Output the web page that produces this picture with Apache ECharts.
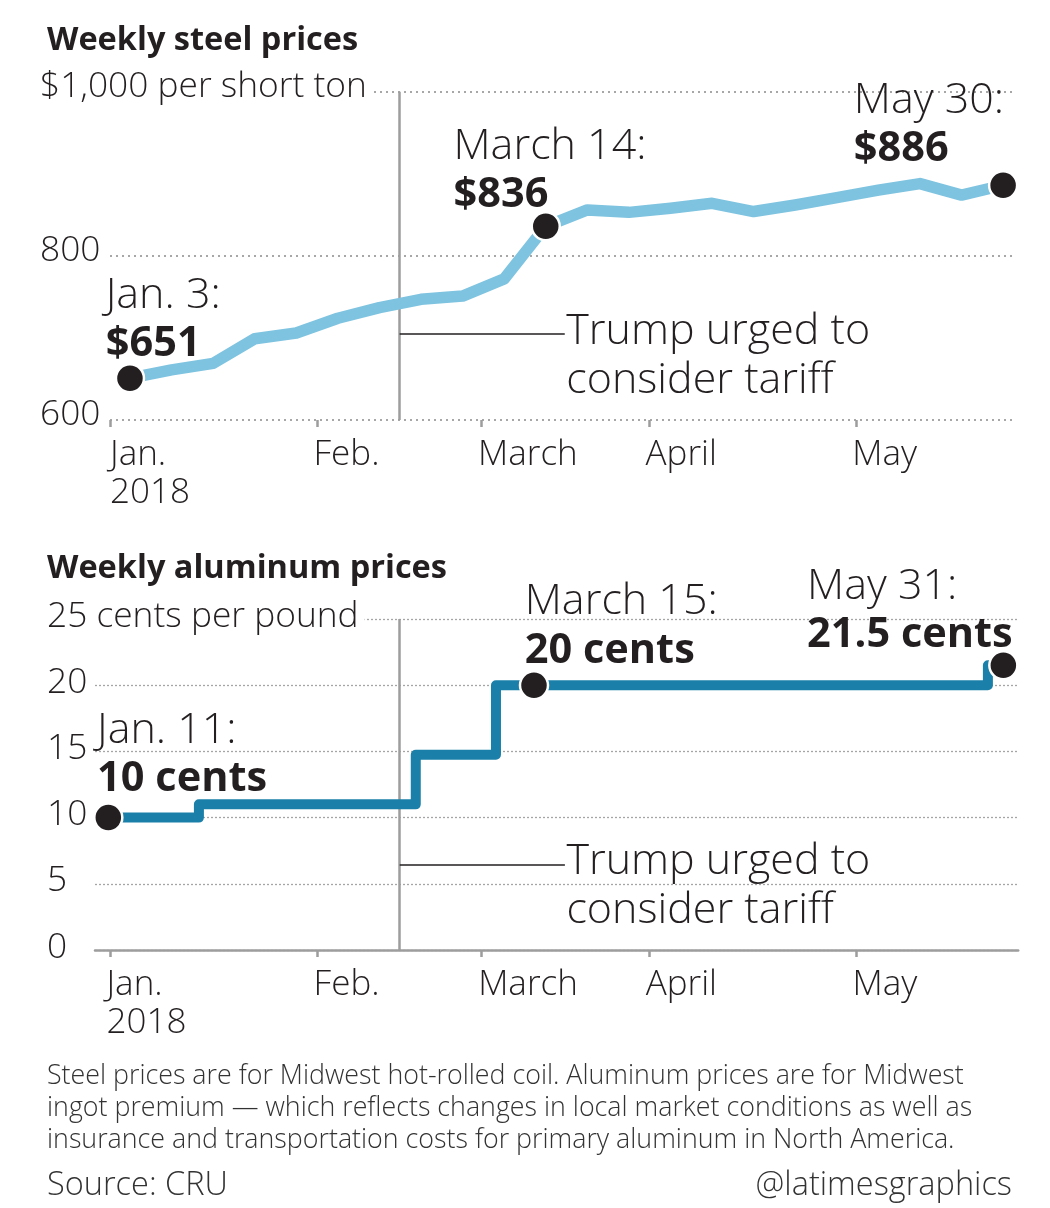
<!DOCTYPE html>
<html><head><meta charset="utf-8">
<script src="https://cdn.jsdelivr.net/npm/echarts@6/dist/echarts.min.js"></script>
<style>html,body{margin:0;padding:0;background:#fff}#c{width:1050px;height:1208px}</style>
</head><body><div id="c"></div>
<script>
// ---------- data ----------
// x positions are in days from Jan 1, 2018
const monthLabels = ['Jan.\n2018', 'Feb.', 'March', 'April', 'May'];
const monthTickPos = [-1.36, 33.5, 61.2, 89.4, 124.2];

const steelDates = ['2018-01-03','2018-01-10','2018-01-17','2018-01-24','2018-01-31','2018-02-07',
  '2018-02-14','2018-02-21','2018-02-28','2018-03-07','2018-03-14','2018-03-21','2018-03-28',
  '2018-04-04','2018-04-11','2018-04-18','2018-04-25','2018-05-02','2018-05-09','2018-05-16',
  '2018-05-23','2018-05-30'];
const steelValues = [651, 661, 669, 699, 706, 724, 737, 747, 751, 772, 836, 856, 853, 858, 864, 854,
  862, 871, 880, 888, 874, 886];
const steelYTicks = [600, 800, 1000];
const steelYLabels = ['600', '800', '$1,000 per short ton'];
const steelNoteIdx = [0, 10, 21];
const steelNoteDates = ['Jan. 3:', 'March 14:', 'May 30:'];

// aluminum: step change points, positions
const alumPos = [-1.65, 13.6, 50.1, 63.6, 70.0, 146.4, 149.0];
const alumValues = [10, 11, 14.75, 20, 20, 21.5, 21.5];
const alumYTicks = [0, 5, 10, 15, 20, 25];
const alumYLabels = ['0', '5', '10', '15', '20', '25 cents per pound'];
const alumNoteIdx = [0, 4, 6];
const alumNoteDates = ['Jan. 11:', 'March 15:', 'May 31:'];

const tariffPos = 47.4;
const tariffText = 'Trump urged to\nconsider tariff';
const steelConnector = [705, 75.2];   // [y value, end x]
const alumConnector = [6.42, 75.2];

const footnote = 'Steel prices are for Midwest hot-rolled coil. Aluminum prices are for Midwest\n' +
  'ingot premium \u2014 which reflects changes in local market conditions as well as\n' +
  'insurance and transportation costs for primary aluminum in North America.';

// ---------- layout / style ----------
const FONT = "'Open Sans', 'Liberation Sans', sans-serif";
const INK = '#231f20';
const steelLabelOffsets = [[-9, -91], [-77, -89], [-134, -94]];
const alumLabelOffsets = [[4, -96], [6, -92], [-181, -88]];

function toDay(s) {
  const p = s.split('-').map(Number);
  return (Date.UTC(p[0], p[1] - 1, p[2]) - Date.UTC(2018, 0, 1)) / 86400000;
}

const steelData = steelDates.map((d, i) => [toDay(d), steelValues[i]]);
const alumData = alumPos.map((x, i) => [x, alumValues[i]]);

const richStyle = {
  a: { fontFamily: FONT, fontSize: 43, lineHeight: 48.5, color: INK, fontWeight: 300 },
  b: { fontFamily: FONT, fontSize: 41.5, lineHeight: 48.5, color: INK, fontWeight: 'bold' }
};

function notePoints(data, idx, dates, fmt, offsets) {
  return idx.map((k, j) => ({
    coord: data[k],
    label: {
      show: true, position: offsets[j], align: 'left', verticalAlign: 'top',
      formatter: '{a|' + dates[j] + '}\n{b|' + fmt(data[k][1]) + '}',
      rich: richStyle
    }
  }));
}

function tariffPoint(conn, dy) {
  return {
    coord: [conn[1], conn[0]], symbol: 'circle', symbolSize: 1,
    itemStyle: { color: 'rgba(0,0,0,0)', borderWidth: 0 },
    label: {
      show: true, position: [2, dy], align: 'left', verticalAlign: 'top',
      formatter: tariffText, fontFamily: FONT, fontSize: 43, lineHeight: 48.5, color: INK, fontWeight: 300
    }
  };
}

function markLines(conn) {
  const connStyle = { color: INK, width: 1.6, type: 'solid' };
  return {
    silent: true, symbol: ['none', 'none'], z: 1, animation: false,
    label: { show: false },
    data: [
      { xAxis: tariffPos, lineStyle: { color: '#9d9d9d', width: 2.5, type: 'solid' } },
      [
        { coord: [tariffPos, conn[0]], lineStyle: connStyle },
        { coord: [conn[1], conn[0]], lineStyle: connStyle }
      ]
    ]
  };
}

function xAxisCfg(gridIndex, min, max, showLine) {
  const labelPos = monthTickPos.map(v => Math.max(min, v - 0.6));
  return {
    type: 'value', gridIndex, min, max,
    axisLine: { show: showLine, lineStyle: { color: '#9d9d9d', width: 2.5 } },
    axisTick: { show: true, customValues: monthTickPos, length: 7, lineStyle: { color: '#9d9d9d', width: 2.5 } },
    splitLine: { show: false },
    axisLabel: {
      customValues: labelPos,
      formatter: v => {
        let best = 0;
        labelPos.forEach((p, i) => { if (Math.abs(p - v) < Math.abs(labelPos[best] - v)) best = i; });
        return monthLabels[best];
      },
      align: 'left', margin: 16,
      fontFamily: FONT, fontSize: 35, lineHeight: 38, color: INK, fontWeight: 300
    }
  };
}

function yAxisCfg(gridIndex, ticks, labels, interval, margin, padBottom, grid) {
  return {
    type: 'value', gridIndex, min: ticks[0], max: ticks[ticks.length - 1], interval,
    axisLine: { show: false }, axisTick: { show: false },
    splitLine: { show: true, lineStyle: grid },
    axisLabel: {
      formatter: v => '{v|' + labels[ticks.indexOf(v)] + '}',
      align: 'left', margin,
      rich: {
        v: { fontFamily: FONT, fontSize: 35.3, lineHeight: 40, color: INK, fontWeight: 300,
             backgroundColor: '#fff', padding: [0, 6, padBottom, 0] }
      }
    }
  };
}

const chart = echarts.init(document.getElementById('c'), null, { renderer: 'canvas' });
chart.setOption({
  animation: false,
  backgroundColor: '#fff',
  title: [
    { text: 'Weekly steel prices', left: 47, top: 20.5, padding: 0,
      textStyle: { fontFamily: FONT, fontSize: 32.5, lineHeight: 40, fontWeight: 'bold', color: INK } },
    { text: 'Weekly aluminum prices', left: 47, top: 549, padding: 0,
      textStyle: { fontFamily: FONT, fontSize: 32.5, lineHeight: 40, fontWeight: 'bold', color: INK } },
    { text: footnote, left: 47, top: 1060, padding: 0,
      textStyle: { fontFamily: FONT, fontSize: 26.8, lineHeight: 32.2, fontWeight: 300, color: '#333' } },
    { text: 'Source: CRU', left: 47, top: 1168, padding: 0,
      textStyle: { fontFamily: FONT, fontSize: 32.5, lineHeight: 36, fontWeight: 300, color: '#333' } },
    { text: '@latimesgraphics', right: 38, top: 1168, padding: 0,
      textStyle: { fontFamily: FONT, fontSize: 32.5, lineHeight: 36, fontWeight: 300, color: '#333' } }
  ],
  grid: [
    { left: 110, right: 35, top: 91.7, height: 328.3, containLabel: false, outerBoundsMode: 'none' },
    { left: 95, right: 31.8, top: 619, height: 331, containLabel: false, outerBoundsMode: 'none' }
  ],
  xAxis: [xAxisCfg(0, -1.36, 151, false), xAxisCfg(1, -3.89, 151.5, true)],
  yAxis: [
    yAxisCfg(0, steelYTicks, steelYLabels, 200, 70, 10, { color: '#8a8a8a', width: 1.5, type: [2, 4] }),
    yAxisCfg(1, alumYTicks, alumYLabels, 5, 48, 5, { color: '#a5a5a5', width: 1.3, type: [2, 2] })
  ],
  series: [
    {
      type: 'line', xAxisIndex: 0, yAxisIndex: 0, data: steelData, showSymbol: false, silent: true, z: 2,
      lineStyle: { color: '#7ec3e0', width: 11.5, join: 'round' },
      markLine: markLines(steelConnector),
      markPoint: {
        silent: true, symbol: 'circle', symbolSize: 28, z: 5,
        itemStyle: { color: INK, borderColor: '#fff', borderWidth: 2.5 },
        data: notePoints(steelData, steelNoteIdx, steelNoteDates, v => '$' + v, steelLabelOffsets)
          .concat([tariffPoint(steelConnector, -25.7)])
      }
    },
    {
      type: 'line', xAxisIndex: 1, yAxisIndex: 1, data: alumData, step: 'end', showSymbol: false, silent: true, z: 2,
      lineStyle: { color: '#1a80a9', width: 10, join: 'round' },
      markLine: markLines(alumConnector),
      markPoint: {
        silent: true, symbol: 'circle', symbolSize: 28, z: 5,
        itemStyle: { color: INK, borderColor: '#fff', borderWidth: 2.5 },
        data: notePoints(alumData, alumNoteIdx, alumNoteDates, v => v + ' cents', alumLabelOffsets)
          .concat([tariffPoint(alumConnector, -26.7)])
      }
    }
  ]
});
</script></body></html>
